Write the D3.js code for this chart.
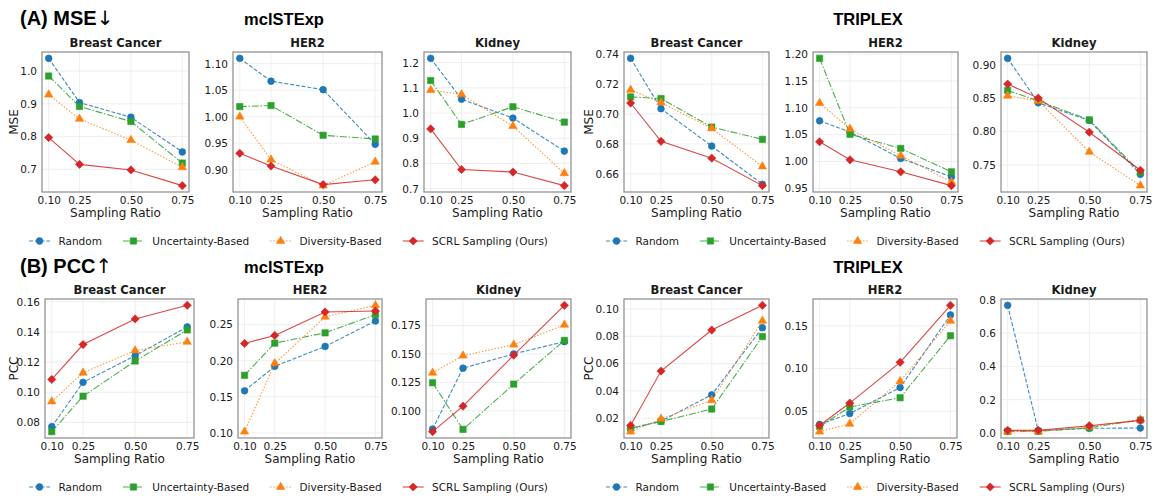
<!DOCTYPE html>
<html>
<head>
<meta charset="utf-8">
<script src="https://d3js.org/d3.v7.min.js"></script>
<style>
body { margin: 0; background: #fff; }
text { font-family: "DejaVu Sans", sans-serif; fill: #1a1a1a; }
text.head { font-family: "Liberation Sans", Arial, sans-serif; font-weight: bold; fill: #000; }
tspan.arrow { font-family: "DejaVu Sans", sans-serif; font-weight: normal; fill: #000; }
</style>
</head>
<body>
<script>

var ratios = [0.10, 0.25, 0.50, 0.75];
var methods = ["Random", "Uncertainty-Based", "Diversity-Based", "SCRL Sampling (Ours)"];
var tissues = ["Breast Cancer", "HER2", "Kidney"];
var models = ["mclSTExp", "TRIPLEX"];
var heads = [["(A) MSE", "\u2193"], ["(B) PCC", "\u2191"]];
var metrics = ["MSE", "PCC"];

// each panel: one row per method (same order as methods), one value per ratio
var mseMclBreast = [[1.039, 0.904, 0.859, 0.753], [0.985, 0.892, 0.846, 0.719], [0.928, 0.854, 0.789, 0.706], [0.797, 0.715, 0.698, 0.650]];
var mseMclHer2   = [[1.110, 1.067, 1.051, 0.948], [1.019, 1.021, 0.965, 0.958], [1.000, 0.919, 0.870, 0.915], [0.931, 0.907, 0.872, 0.881]];
var mseMclKidney = [[1.217, 1.055, 0.980, 0.849], [1.129, 0.955, 1.025, 0.964], [1.091, 1.074, 0.948, 0.761], [0.937, 0.776, 0.766, 0.712]];
var mseTriBreast = [[0.7373, 0.7036, 0.6786, 0.6530], [0.7115, 0.7104, 0.6913, 0.6831], [0.7162, 0.7077, 0.6904, 0.6649], [0.7074, 0.6818, 0.6705, 0.6521]];
var mseTriHer2   = [[1.0757, 1.0550, 1.0056, 0.9714], [1.1920, 1.0506, 1.0243, 0.9807], [1.1087, 1.0606, 1.0106, 0.9618], [1.0367, 1.0031, 0.9807, 0.9550]];
var mseTriKidney = [[0.9095, 0.8430, 0.8165, 0.7360], [0.8615, 0.8460, 0.8175, 0.7390], [0.8535, 0.8460, 0.7695, 0.7190], [0.8710, 0.8500, 0.7990, 0.7420]];

var pccMclBreast = [[0.0772, 0.1066, 0.1242, 0.1433], [0.0739, 0.0974, 0.1207, 0.1413], [0.0939, 0.1129, 0.1277, 0.1334], [0.1085, 0.1316, 0.1486, 0.1576]];
var pccMclHer2   = [[0.1583, 0.1922, 0.2197, 0.2550], [0.1798, 0.2243, 0.2385, 0.2638], [0.1018, 0.1963, 0.2606, 0.2766], [0.2239, 0.2349, 0.2674, 0.2688]];
var pccMclKidney = [[0.0840, 0.1375, 0.1500, 0.1608], [0.1247, 0.0837, 0.1235, 0.1619], [0.1334, 0.1485, 0.1581, 0.1756], [0.0817, 0.1041, 0.1489, 0.1927]];
var pccTriBreast = [[0.0123, 0.0178, 0.0371, 0.0863], [0.0127, 0.0176, 0.0267, 0.0798], [0.0101, 0.0195, 0.0331, 0.0913], [0.0147, 0.0545, 0.0846, 0.1027]];
var pccTriHer2   = [[0.0346, 0.0473, 0.0778, 0.1627], [0.0322, 0.0550, 0.0658, 0.1384], [0.0261, 0.0353, 0.0851, 0.1558], [0.0334, 0.0596, 0.1073, 0.1740]];
var pccTriKidney = [[0.766, 0.014, 0.028, 0.030], [0.010, 0.010, 0.032, 0.078], [0.008, 0.010, 0.038, 0.080], [0.016, 0.016, 0.044, 0.076]];

var xTickLabels = ["0.10", "0.25", "0.50", "0.75"];
var yTicksMse = [
  ["0.7", "0.8", "0.9", "1.0"],
  ["0.90", "0.95", "1.00", "1.05", "1.10"],
  ["0.7", "0.8", "0.9", "1.0", "1.1", "1.2"],
  ["0.66", "0.68", "0.70", "0.72", "0.74"],
  ["0.95", "1.00", "1.05", "1.10", "1.15", "1.20"],
  ["0.75", "0.80", "0.85", "0.90"]
];
var yTicksPcc = [
  ["0.08", "0.10", "0.12", "0.14", "0.16"],
  ["0.10", "0.15", "0.20", "0.25"],
  ["0.100", "0.125", "0.150", "0.175"],
  ["0.02", "0.04", "0.06", "0.08", "0.10"],
  ["0.05", "0.10", "0.15"],
  ["0.0", "0.2", "0.4", "0.6", "0.8"]
];

var mseData = [mseMclBreast, mseMclHer2, mseMclKidney, mseTriBreast, mseTriHer2, mseTriKidney];
var pccData = [pccMclBreast, pccMclHer2, pccMclKidney, pccTriBreast, pccTriHer2, pccTriKidney];

// styles
var colors = ["#1f77b4", "#2ca02c", "#ff7f0e", "#d62728"];
var dashes = ["4,1.8", "7,1.8,1.4,1.8", "1.4,1.8", null];
var shapes = [d3.symbolCircle, d3.symbolSquare, d3.symbolTriangle, d3.symbolSquare];
var shapeSize = [36, 40, 30, 34];
var shapeRot = [0, 0, 0, 45];

var W = 1154, H = 496;
var svg = d3.select("body").append("svg").attr("width", W).attr("height", H);

// panel frames (left, right) per row
var rowsLayout = [
  { top: 52, bottom: 192, lefts: [42, 233, 424, 624, 813, 1001], rights: [189, 382, 571, 769, 958, 1147], labelX: [14, 589], yTitle: 46.5, yHead: 25, legendY: 241 },
  { top: 299, bottom: 438, lefts: [45, 238, 426, 624, 813, 1001], rights: [194, 382, 571, 769, 957, 1147], labelX: [14, 589], yTitle: 294, yHead: 273, legendY: 487 }
];
var rowsData = [mseData, pccData];
var rowsTicks = [yTicksMse, yTicksPcc];

function marker(sel, i) {
  sel.attr("d", d3.symbol().type(shapes[i]).size(shapeSize[i]))
     .attr("fill", colors[i])
     .attr("stroke", colors[i])
     .attr("stroke-width", 0.6);
}

function drawPanel(data, ticks, box, title, ylabel, labelX) {
  var g = svg.append("g");
  var x = d3.scaleLinear().domain([0.0675, 0.7825]).range([box.l, box.r]);
  var ext = d3.extent(d3.merge(data));
  var pad = (ext[1] - ext[0]) * 0.05;
  var y = d3.scaleLinear().domain([ext[0] - pad, ext[1] + pad]).range([box.b, box.t]);
  var yv = ticks.map(function(t) { return +t; });

  // grid
  g.selectAll(".gx").data(ratios).enter().append("line")
    .attr("x1", function(d) { return x(d); }).attr("x2", function(d) { return x(d); })
    .attr("y1", box.t).attr("y2", box.b)
    .attr("stroke", "#ebebeb").attr("stroke-width", 0.8);
  g.selectAll(".gy").data(yv).enter().append("line")
    .attr("x1", box.l).attr("x2", box.r)
    .attr("y1", function(d) { return y(d); }).attr("y2", function(d) { return y(d); })
    .attr("stroke", "#ebebeb").attr("stroke-width", 0.8);

  // axes
  var xa = g.append("g").attr("transform", "translate(0," + box.b + ")")
    .call(d3.axisBottom(x).tickValues(ratios).tickSize(0).tickPadding(5)
      .tickFormat(function(d, i) { return xTickLabels[i]; }));
  var ya = g.append("g").attr("transform", "translate(" + box.l + ",0)")
    .call(d3.axisLeft(y).tickValues(yv).tickSize(0).tickPadding(5)
      .tickFormat(function(d, i) { return ticks[i]; }));
  [xa, ya].forEach(function(a) {
    a.select(".domain").remove();
    a.selectAll("text").attr("font-size", 10.5).attr("font-family", "DejaVu Sans").attr("fill", "#1a1a1a");
  });

  // frame
  g.append("rect").attr("x", box.l).attr("y", box.t)
    .attr("width", box.r - box.l).attr("height", box.b - box.t)
    .attr("fill", "none").attr("stroke", "#8a8a8a").attr("stroke-width", 1.2);

  // series
  var line = d3.line().x(function(d, j) { return x(ratios[j]); }).y(function(d) { return y(d); });
  data.forEach(function(vals, i) {
    g.append("path").datum(vals).attr("d", line)
      .attr("fill", "none").attr("stroke", colors[i]).attr("stroke-width", 1.1)
      .attr("stroke-opacity", 0.85)
      .attr("stroke-dasharray", dashes[i]);
    g.selectAll(".m" + i).data(vals).enter().append("path")
      .attr("transform", function(d, j) { return "translate(" + x(ratios[j]) + "," + y(d) + ") rotate(" + shapeRot[i] + ")"; })
      .call(marker, i);
  });

  // titles
  g.append("text").attr("x", (box.l + box.r) / 2).attr("y", box.title)
    .attr("text-anchor", "middle").attr("font-size", 11.6).attr("font-weight", "bold")
    .text(title);
  g.append("text").attr("x", (box.l + box.r) / 2).attr("y", box.b + 25)
    .attr("text-anchor", "middle").attr("font-size", 12).text("Sampling Ratio");
  if (ylabel) {
    g.append("text").attr("transform", "translate(" + (labelX + 4) + "," + ((box.t + box.b) / 2) + ") rotate(-90)")
      .attr("text-anchor", "middle").attr("font-size", 12).text(ylabel);
  }
}

function drawLegend(cx, cy) {
  var fs = 10.5, handle = 21, tpad = 8.4, colsp = 21;
  var g = svg.append("g");
  var items = methods.map(function(m, i) {
    var t = g.append("text").attr("font-size", fs).attr("y", cy + 4).text(m);
    return { t: t, w: t.node().getComputedTextLength(), i: i };
  });
  var total = d3.sum(items, function(d) { return d.w + handle + tpad; }) + colsp * (items.length - 1);
  var xPos = cx - total / 2;
  items.forEach(function(it) {
    var i = it.i;
    g.append("line").attr("x1", xPos).attr("x2", xPos + handle).attr("y1", cy).attr("y2", cy)
      .attr("stroke", colors[i]).attr("stroke-width", 1.1).attr("stroke-opacity", 0.85)
      .attr("stroke-dasharray", dashes[i]);
    g.append("path").attr("transform", "translate(" + (xPos + handle / 2) + "," + cy + ") rotate(" + shapeRot[i] + ")")
      .call(marker, i);
    it.t.attr("x", xPos + handle + tpad);
    xPos += handle + tpad + it.w + colsp;
  });
}

rowsLayout.forEach(function(row, r) {
  for (var k = 0; k < 6; k++) {
    var box = { l: row.lefts[k], r: row.rights[k], t: row.top, b: row.bottom, title: row.yTitle };
    drawPanel(rowsData[r][k], rowsTicks[r][k], box, tissues[k % 3],
      (k % 3 === 0) ? metrics[r] : null, row.labelX[Math.floor(k / 3)]);
  }
  var h = svg.append("text").attr("class", "head").attr("x", 20).attr("y", row.yHead)
    .attr("font-size", 20);
  h.append("tspan").text(heads[r][0]);
  h.append("tspan").attr("class", "arrow").attr("font-size", 20).text(heads[r][1]);
  svg.append("text").attr("class", "head").attr("x", 284).attr("y", row.yHead)
    .attr("text-anchor", "middle").attr("font-size", 16.5).text(models[0]);
  svg.append("text").attr("class", "head").attr("x", 868).attr("y", row.yHead)
    .attr("text-anchor", "middle").attr("font-size", 16.5).text(models[1]);
  drawLegend(288.5, row.legendY);
  drawLegend(865.5, row.legendY);
});

</script>
</body>
</html>
